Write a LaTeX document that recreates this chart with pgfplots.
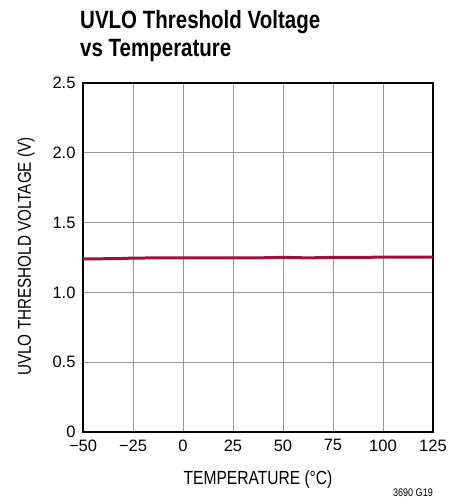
\documentclass[border=0pt]{standalone}
\usepackage{pgfplots}
\pgfplotsset{compat=1.18}
\usepackage{fontspec}
\setmainfont{Liberation Sans}
\newfontfamily\cond[FakeStretch=0.82]{Liberation Sans}
\definecolor{ltred}{RGB}{158,18,58}
\definecolor{gridgray}{RGB}{150,150,150}
\begin{document}
\begin{tikzpicture}
\path[use as bounding box] (0pt,0pt) rectangle (463pt,504pt);
\begin{axis}[
  at={(83pt,72pt)}, anchor=south west,
  scale only axis, width=350pt, height=349pt,
  xmin=-50, xmax=125, ymin=0, ymax=2.5,
  xtick={-50,-25,0,25,50,75,100,125},
  xticklabels={−50,−25,0,25,50,75,100,125},
  ytick={0,0.5,1,1.5,2,2.5},
  yticklabels={0,0.5,1.0,1.5,2.0,2.5},
  major tick length=0pt,
  tick label style={font=\fontsize{16.5}{18}\selectfont},
  xticklabel style={yshift=-4pt},
  yticklabel style={xshift=-4pt},
  grid=major,
  major grid style={draw=gridgray, line width=0.9pt},
  axis line style={line width=1.3pt, black},
  xlabel={TEMPERATURE (°C)},
  xlabel style={at={(rel axis cs:0.5,0)}, anchor=base, yshift=-52pt, font=\cond\fontsize{19}{20}\selectfont},
  ylabel={UVLO THRESHOLD VOLTAGE (V)},
  ylabel style={at={(rel axis cs:0,0.5)}, anchor=center, yshift=57pt, xshift=1pt, font=\cond\fontsize{18.6}{20}\selectfont},
  clip=false,
]
\addplot[ltred, line width=3pt] coordinates {
(-50,1.240) (-40,1.241) (-30,1.243) (-25,1.246) (-10,1.247) (0,1.247) (25,1.247) (40,1.248) (50,1.251) (57,1.249) (63,1.247) (68,1.249) (75,1.251) (100,1.252) (125,1.252)
};
\end{axis}
\node[anchor=base west, font=\cond\bfseries\fontsize{25}{28}\selectfont, inner sep=0pt] at (80pt,475pt) {UVLO Threshold Voltage};
\node[anchor=base west, font=\cond\bfseries\fontsize{25}{28}\selectfont, inner sep=0pt] at (80pt,447pt) {vs Temperature};
\node[anchor=base east, font=\cond\fontsize{11}{12}\selectfont, inner sep=0pt] at (433pt,7pt) {3690 G19};
\end{tikzpicture}
\end{document}
